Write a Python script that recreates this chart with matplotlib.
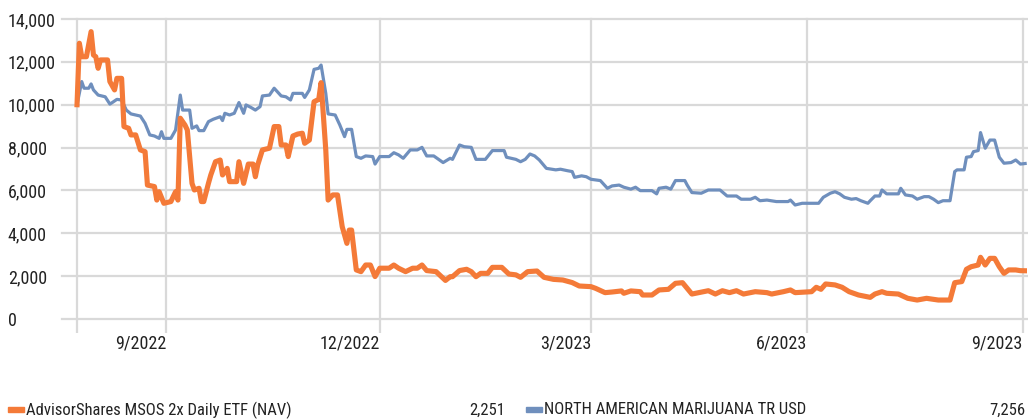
import numpy as np
import matplotlib
matplotlib.use("Agg")
import matplotlib.pyplot as plt
import matplotlib.dates as mdates
from matplotlib.patches import Rectangle

plt.rcParams["font.family"] = ["Roboto Condensed", "DejaVu Sans"]

# growth of 10,000 — days counted from the first day of the series
START = np.datetime64("2022-07-25")

msos_days = [0, 1, 2, 4, 6, 7, 8, 9, 10, 13, 14, 16, 17, 19, 20, 22, 23, 25, 27, 29,
             30, 33, 34, 35, 37, 40, 42, 43, 44, 46, 47, 49, 50, 52, 53, 54, 56, 57, 59, 61,
             62, 64, 65, 68, 69, 71, 73, 75, 76, 77, 79, 82, 84, 86, 87, 89, 90, 92, 94, 96,
             97, 99, 101, 103, 104, 106, 107, 109, 111, 113, 115, 116, 117, 119, 121, 123, 125, 127, 129, 133,
             135, 137, 140, 143, 145, 147, 149, 153, 157, 159, 160, 163, 166, 168, 170, 172, 175, 177, 181, 184,
             187, 189, 192, 196, 199, 203, 207, 211, 214, 219, 221, 225, 228, 232, 233, 236, 240, 241, 245, 248,
             252, 255, 258, 262, 265, 269, 272, 275, 278, 281, 284, 289, 294, 296, 301, 304, 306, 313, 315, 317,
             319, 323, 326, 329, 333, 338, 340, 343, 345, 350, 354, 358, 362, 367, 372, 374, 377, 379, 381, 384,
             385, 387, 389, 391, 393, 395, 397, 400, 402, 404]
msos_vals = [10000, 12870, 12240, 12240, 13410, 12320, 12240, 11700, 12090, 12090, 11080, 10690, 11230, 11230, 8980, 8900, 8590, 8590, 7890, 7810,
             6250, 6180, 5550, 5940, 5400, 5480, 5940, 5550, 9370, 9050, 8820, 6330, 6020, 6100, 5480, 5480, 6330, 6720, 7340, 7420,
             6720, 7030, 6410, 6410, 7340, 6330, 7230, 7230, 6640, 7190, 7890, 7970, 8980, 8980, 8120, 8120, 7580, 8540, 8630, 8670,
             8200, 8350, 10140, 10250, 11030, 7890, 5550, 5790, 5790, 4310, 3530, 4150, 4150, 2290, 2210, 2520, 2520, 1980, 2370, 2370,
             2520, 2370, 2210, 2370, 2370, 2520, 2260, 2210, 1800, 1975, 1975, 2260, 2320, 2210, 1975, 2130, 2130, 2410, 2410, 2100,
             2060, 1945, 2210, 2240, 1945, 1850, 1820, 1700, 1540, 1510, 1430, 1230, 1260, 1310, 1200, 1310, 1275, 1120, 1120, 1355,
             1385, 1665, 1695, 1165, 1230, 1320, 1165, 1320, 1230, 1320, 1165, 1275, 1230, 1165, 1275, 1355, 1230, 1275, 1480, 1385,
             1635, 1590, 1480, 1275, 1120, 1010, 1165, 1275, 1200, 1165, 965, 885, 965, 885, 885, 1695, 1745, 2320, 2440, 2520,
             2880, 2520, 2830, 2830, 2440, 2130, 2290, 2290, 2255, 2251]

index_days = [0, 2, 3, 5, 6, 7, 9, 12, 14, 15, 17, 19, 21, 23, 27, 29, 31, 33, 35, 36,
              37, 40, 42, 44, 45, 48, 49, 51, 52, 54, 56, 58, 61, 62, 63, 65, 67, 69, 71, 72,
              74, 76, 78, 79, 82, 84, 87, 89, 91, 92, 96, 97, 99, 101, 103, 104, 106, 107, 110, 112,
              114, 115, 117, 119, 121, 123, 126, 127, 129, 133, 135, 137, 139, 142, 145, 147, 149, 152, 156, 159,
              160, 163, 165, 168, 170, 174, 177, 182, 183, 187, 189, 191, 193, 195, 197, 200, 204, 206, 209, 211,
              212, 215, 217, 219, 223, 226, 228, 231, 233, 236, 238, 240, 245, 247, 248, 251, 253, 255, 259, 260,
              262, 266, 269, 274, 277, 281, 283, 287, 289, 291, 294, 298, 303, 304, 306, 309, 316, 318, 321, 323,
              325, 327, 330, 332, 334, 337, 338, 340, 342, 343, 345, 350, 351, 353, 356, 358, 361, 363, 365, 367,
              369, 372, 374, 375, 378, 379, 381, 382, 384, 385, 387, 389, 391, 393, 395, 398, 400, 402, 404]
index_vals = [10000, 11080, 10770, 10770, 10970, 10690, 10450, 10370, 10030, 10100, 10250, 10220, 9750, 9570, 9470, 9130, 8590, 8540, 8430, 8740,
              8430, 8430, 8820, 10450, 9750, 9750, 8900, 9010, 8790, 8790, 9210, 9320, 9440, 9260, 9600, 9520, 9600, 10100, 9600, 9990,
              9880, 9750, 9910, 10410, 10450, 10770, 10410, 10370, 10220, 10530, 10530, 10340, 10690, 11650, 11700, 11850, 10530, 9570, 9520, 9050,
              8510, 8850, 8850, 7580, 7500, 7610, 7580, 7230, 7580, 7580, 7760, 7660, 7500, 7890, 7890, 8010, 7610, 7610, 7300, 7500,
              7450, 8120, 8040, 8010, 7450, 7450, 7860, 7860, 7550, 7450, 7340, 7450, 7700, 7610, 7420, 7030, 6960, 6990, 6920, 6880,
              6610, 6680, 6640, 6520, 6460, 6100, 6210, 6250, 6150, 6060, 6150, 5990, 5990, 5840, 6100, 6150, 6060, 6460, 6460, 6250,
              5900, 5870, 6020, 6020, 5740, 5740, 5590, 5590, 5680, 5520, 5550, 5480, 5480, 5550, 5320, 5400, 5400, 5680, 5870, 5940,
              5840, 5680, 5590, 5620, 5520, 5400, 5520, 5740, 5740, 6020, 5840, 5840, 6100, 5790, 5740, 5590, 5710, 5710, 5590, 5430,
              5520, 5520, 6880, 6960, 6960, 7550, 7580, 7810, 7860, 8700, 7970, 8350, 8350, 7550, 7270, 7300, 7420, 7230, 7256]

series_names = ["AdvisorShares MSOS 2x Daily ETF (NAV)", "NORTH AMERICAN MARIJUANA TR USD"]
series_last = ["2,251", "7,256"]
tick_dates = ["2022-07-25", "2022-09-01", "2022-12-01", "2023-03-01", "2023-06-01", "2023-09-01"]
tick_labels = ["", "9/2022", "12/2022", "3/2023", "6/2023", "9/2023"]
y_ticks = [0, 2000, 4000, 6000, 8000, 10000, 12000, 14000]

ORANGE = "#f47a38"
BLUE = "#6f8fbd"
GRID = "#d9d9d9"
TEXT = "#222222"
FS = 13
LEG_FS = 12


def to_dates(days):
    return START + np.array(days).astype("timedelta64[D]")


fig = plt.figure(figsize=(10.28, 4.2), dpi=100)
ax = fig.add_axes([62 / 1028, 101 / 420, 965 / 1028, 300 / 420])

ax.plot(to_dates(index_days), index_vals, color=BLUE, lw=2.3, solid_joinstyle="round", zorder=3)
ax.plot(to_dates(msos_days), msos_vals, color=ORANGE, lw=3.7, solid_joinstyle="round", zorder=4)

x0 = mdates.date2num(START)
ax.set_xlim(x0 - 6.4, x0 + 404.8)
ax.set_ylim(0, 14000)

for s in ax.spines.values():
    s.set_visible(False)

ax.set_yticks(y_ticks, [f"{v:,}" for v in y_ticks])
ax.set_xticks([mdates.date2num(np.datetime64(d)) for d in tick_dates], tick_labels)
ax.grid(True, color=GRID, lw=1.6)
ax.set_axisbelow(True)
for ln in ax.get_ygridlines() + ax.get_xgridlines():
    ln.set_clip_on(False)

ax.tick_params(axis="y", length=0, pad=39, labelsize=FS, labelcolor=TEXT)
for t in ax.get_yticklabels():
    t.set_horizontalalignment("left")
ax.tick_params(axis="x", length=10, width=1.6, color=GRID, pad=1, labelsize=FS, labelcolor=TEXT)
for t in ax.get_xticklabels():
    t.set_horizontalalignment("right")

# legend row along the bottom
ly = 1 - 410 / 420
fig.add_artist(Rectangle((8 / 1028, 1 - 412 / 420), 16 / 1028, 5 / 420, color=ORANGE,
                         transform=fig.transFigure))
fig.text(26 / 1028, ly, series_names[0], fontsize=LEG_FS, va="center", color=TEXT)
fig.text(505 / 1028, ly, series_last[0], fontsize=LEG_FS, va="center", ha="right", color=TEXT)
fig.add_artist(Rectangle((526 / 1028, 1 - 412 / 420), 16 / 1028, 5 / 420, color=BLUE,
                         transform=fig.transFigure))
fig.text(544 / 1028, ly, series_names[1], fontsize=LEG_FS, va="center", color=TEXT)
fig.text(1025 / 1028, ly, series_last[1], fontsize=LEG_FS, va="center", ha="right", color=TEXT)

fig.savefig("out.png", dpi=100)
